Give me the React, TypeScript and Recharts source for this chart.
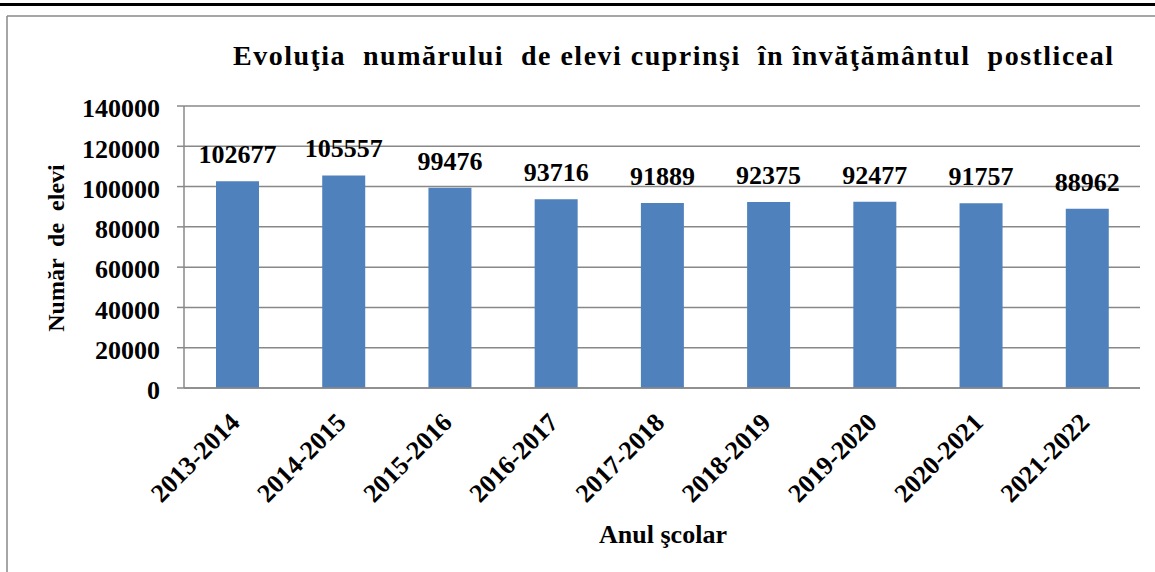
import React from 'react';
import { BarChart, Bar, XAxis, YAxis, CartesianGrid, LabelList } from 'recharts';

const years = ['2013-2014', '2014-2015', '2015-2016', '2016-2017', '2017-2018', '2018-2019', '2019-2020', '2020-2021', '2021-2022'];
const students = [102677, 105557, 99476, 93716, 91889, 92375, 92477, 91757, 88962];
const yTicks = [0, 20000, 40000, 60000, 80000, 100000, 120000, 140000];

const title = 'Evoluţia  numărului  de elevi cuprinşi  în învăţământul  postliceal';
const yTitle = 'Număr  de  elevi';
const xTitle = 'Anul şcolar';

const data = years.map((y, i) => ({ year: y, value: students[i] }));

const FONT = '"Liberation Serif", "Times New Roman", serif';
const GRID = '#888888';

const XTick = (props: any) => {
  const { x, y, payload } = props;
  return (
    <g transform={`translate(${x + 4},${y + 36})`}>
      <text
        x={0}
        y={0}
        transform="rotate(-45)"
        textAnchor="end"
        fontFamily={FONT}
        fontWeight="bold"
        fontSize={26}
        fill="#000"
      >
        {payload.value}
      </text>
    </g>
  );
};

export default function App() {
  return (
    <div style={{ position: 'absolute', left: 0, top: 0, width: 1155, height: 572, background: '#fff', fontFamily: FONT }}>
      <BarChart
        width={1155}
        height={572}
        data={data}
        margin={{ top: 106, right: 15, bottom: 0, left: 0 }}
        style={{ fontFamily: FONT }}
      >
        <CartesianGrid vertical={false} stroke={GRID} strokeWidth={1.5} />
        <XAxis
          dataKey="year"
          height={184}
          interval={0}
          tickLine={false}
          tickSize={0}
          tickMargin={0}
          axisLine={{ stroke: GRID, strokeWidth: 1.5 }}
          tick={<XTick />}
        />
        <YAxis
          width={184}
          domain={[0, 140000]}
          ticks={yTicks}
          interval={0}
          tickSize={7}
          tickMargin={17}
          axisLine={{ stroke: GRID, strokeWidth: 1.5 }}
          tickLine={{ stroke: GRID, strokeWidth: 1.5 }}
          tick={{ fontSize: 26, fontWeight: 'bold', fill: '#000', fontFamily: FONT, dy: 2 }}
        />
        <Bar dataKey="value" fill="#4F81BD" barSize={43} isAnimationActive={false}>
          <LabelList
            dataKey="value"
            position="top"
            offset={18}
            style={{ fontSize: 26, fontWeight: 'bold', fill: '#000', fontFamily: FONT }}
          />
        </Bar>
      </BarChart>
      <svg
        width={1155}
        height={572}
        style={{ position: 'absolute', left: 0, top: 0, pointerEvents: 'none' }}
      >
        <line x1={0} y1={4.5} x2={1155} y2={4.5} stroke="#000" strokeWidth={3} />
        <line x1={7} y1={16} x2={1155} y2={16} stroke={GRID} strokeWidth={1.5} />
        <line x1={7} y1={16} x2={7} y2={572} stroke={GRID} strokeWidth={1.5} />
        <text
          x={233}
          y={65}
          fontFamily={FONT}
          fontWeight="bold"
          fontSize={28}
          fill="#000"
          textLength={880}
          lengthAdjust="spacing"
          style={{ whiteSpace: 'pre' }}
        >
          {title}
        </text>
        <text
          x={0}
          y={0}
          transform="translate(64,248) rotate(-90)"
          textAnchor="middle"
          fontFamily={FONT}
          fontWeight="bold"
          fontSize={24}
          fill="#000"
          style={{ whiteSpace: 'pre' }}
        >
          {yTitle}
        </text>
        <text
          x={663}
          y={543}
          textAnchor="middle"
          fontFamily={FONT}
          fontWeight="bold"
          fontSize={26}
          fill="#000"
        >
          {xTitle}
        </text>
      </svg>
    </div>
  );
}
